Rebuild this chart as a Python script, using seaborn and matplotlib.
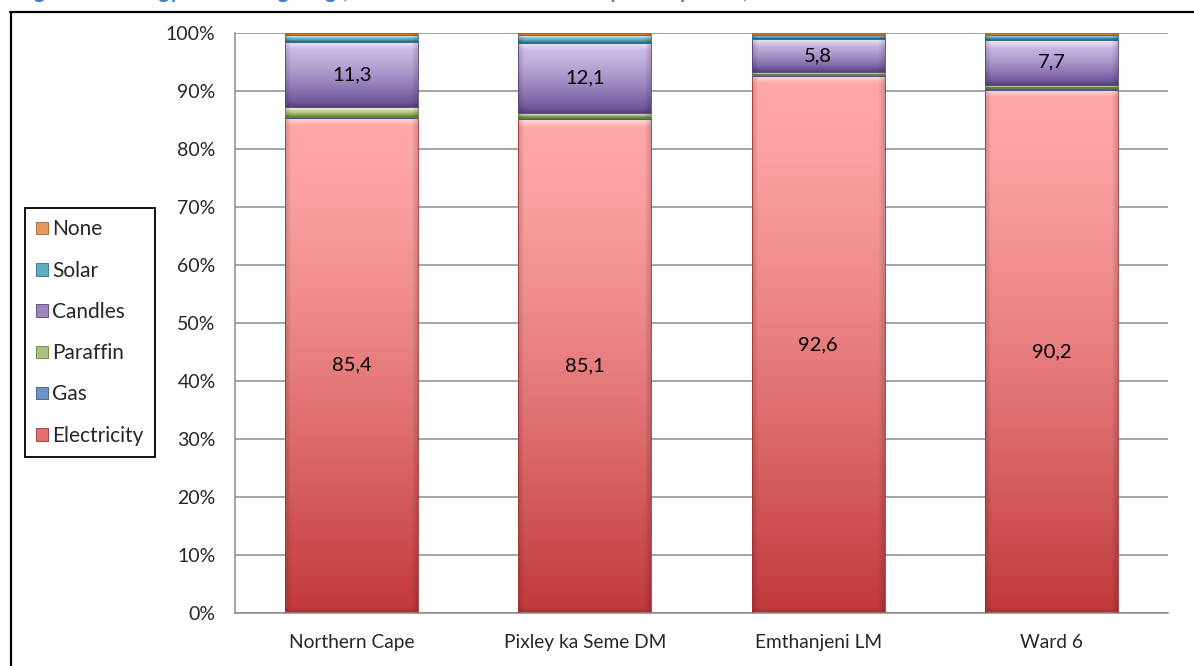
import numpy as np
import pandas as pd
import matplotlib
matplotlib.use("Agg")
import matplotlib.pyplot as plt
import seaborn as sns
from matplotlib.patches import Patch
from matplotlib.lines import Line2D
from matplotlib.ticker import FuncFormatter

# Share of households by main energy source for lighting (%)
areas = ["Northern Cape", "Pixley ka Seme DM", "Emthanjeni LM", "Ward 6"]
electricity = [85.4, 85.1, 92.6, 90.2]
gas = [0.2, 0.2, 0.1, 0.4]
paraffin = [1.6, 0.9, 0.5, 0.5]
candles = [11.3, 12.1, 5.8, 7.7]
solar = [1.1, 1.3, 0.7, 0.9]
no_lighting = [0.4, 0.4, 0.3, 0.3]

labelled = {"Electricity", "Candles"}

# (legend name, values, top colour, bottom colour)
series = [
    ("Electricity", electricity, (255, 168, 168), (192, 56, 58)),
    ("Gas", gas, (160, 188, 224), (62, 104, 164)),
    ("Paraffin", paraffin, (218, 232, 190), (122, 152, 62)),
    ("Candles", candles, (208, 192, 234), (102, 76, 146)),
    ("Solar", solar, (150, 210, 226), (46, 132, 156)),
    ("None", no_lighting, (252, 196, 148), (204, 112, 40)),
]

sns.set_style("white")
plt.rcParams["font.family"] = ["Lato", "DejaVu Sans"]

W_PX, H_PX = 1194, 666
fig = plt.figure(figsize=(W_PX / 100, H_PX / 100), dpi=100)
ax = fig.add_axes([235 / W_PX, 53 / H_PX, (1168 - 235) / W_PX, (613 - 33) / H_PX])

bottom = np.zeros(len(areas))
seg = []
for name, vals, top_c, bot_c in series:
    mid = tuple(((np.array(top_c) + np.array(bot_c)) / 2) / 255)
    df = pd.DataFrame({"area": areas, "share": vals})
    n0 = len(ax.patches)
    sns.barplot(data=df, x="area", y="share", order=areas, bottom=bottom.copy(),
                width=0.57, color=mid, saturation=1, errorbar=None,
                edgecolor=tuple(np.array(bot_c) / 255 * 0.85), linewidth=0.6, ax=ax)
    seg.append((name, vals, bottom.copy(), top_c, bot_c, ax.patches[n0:]))
    bottom += np.array(vals)

ax.set_xlim(-0.5, len(areas) - 0.5)
ax.set_ylim(0, 100)


def shade(top_c, bot_c, w, h):
    """Vertical gradient with a bevelled highlight along the top edge."""
    top = np.array(top_c, float) / 255
    bot = np.array(bot_c, float) / 255
    rows = np.arange(h)[:, None, None]
    cols = np.arange(w)[None, :, None]
    t = (rows / max(h - 1, 1)) ** 1.4
    img = top + (bot - top) * t
    img = np.broadcast_to(img, (h, w, 3)).copy()
    b = min(8.0, h / 3.0)
    if b >= 1:
        k = np.clip(1 - rows / b, 0, 1) * 0.6
        img = img + (1 - img) * k
    d = np.minimum(cols, w - 1 - cols)
    side = np.clip(1 - d / 6.0, 0, 1) * 0.16
    img = img * (1 - side)
    db = (h - 1 - rows)
    bb = min(5.0, h / 3.0)
    if bb >= 1:
        img = img * (1 - np.clip(1 - db / bb, 0, 1) * 0.12)
    return np.clip(img, 0, 1)


for name, vals, bots, top_c, bot_c, patches in seg:
    for p in patches:
        x0, y0, w, h = p.get_x(), p.get_y(), p.get_width(), p.get_height()
        (px0, py0), (px1, py1) = ax.transData.transform([(x0, y0), (x0 + w, y0 + h)])
        wp = max(int(round(px1 - px0)), 2)
        hp = max(int(round(py1 - py0)), 1)
        img = shade(top_c, bot_c, wp, hp)
        im = ax.imshow(img, extent=(x0, x0 + w, y0, y0 + h), origin="upper",
                       aspect="auto", interpolation="bilinear", zorder=2.5)
        im.set_clip_path(p)
        p.set_facecolor("none")
        p.set_zorder(3)
    if name in labelled:
        for i, (v, b0) in enumerate(zip(vals, bots)):
            ax.text(i, b0 + v / 2, f"{v:.1f}".replace(".", ","), ha="center",
                    va="center", fontsize=14.5, color="black", zorder=5)

ax.set_xlim(-0.5, len(areas) - 0.5)
ax.set_ylim(0, 100)
ax.set_yticks(np.arange(0, 101, 10))
ax.yaxis.set_major_formatter(FuncFormatter(lambda v, _: f"{v:.0f}%"))
ax.yaxis.grid(True, color="#8c8c8c", linewidth=1.1)
ax.set_axisbelow(True)
ax.tick_params(axis="y", length=0, pad=14, labelsize=14)
ax.tick_params(axis="x", length=0, pad=15, labelsize=13.8)
ax.set_xlabel("")
ax.set_ylabel("")
for s in ("top", "right"):
    ax.spines[s].set_visible(False)
for s in ("left", "bottom"):
    ax.spines[s].set_color("#8c8c8c")
    ax.spines[s].set_linewidth(1.1)

handles = []
for name, vals, top_c, bot_c in reversed(series):
    mid = tuple(((np.array(top_c) + np.array(bot_c)) / 2) / 255)
    handles.append(Patch(facecolor=mid, edgecolor=tuple(np.array(bot_c) / 255 * 0.85),
                         linewidth=0.6, label=name))
leg = fig.legend(handles=handles, loc="upper left",
                 bbox_to_anchor=(25 / W_PX, (H_PX - 208) / H_PX),
                 bbox_transform=fig.transFigure, fontsize=15, frameon=True,
                 fancybox=False, edgecolor="black", framealpha=1,
                 handlelength=0.55, handleheight=0.55, handletextpad=0.2,
                 labelspacing=1.02, borderpad=0.55, borderaxespad=0)
leg.get_frame().set_linewidth(1.3)

# Outer frame of the figure block
fig.add_artist(Line2D([10.5 / W_PX, 10.5 / W_PX], [0, (H_PX - 12) / H_PX],
                      transform=fig.transFigure, color="black", lw=1.6))
fig.add_artist(Line2D([10 / W_PX, 1], [(H_PX - 12) / H_PX, (H_PX - 12) / H_PX],
                      transform=fig.transFigure, color="black", lw=1.6))

# Caption above the block
fig.text(17 / W_PX, 1 + 2.5 / H_PX,
         "Figure 14: Energy used for lighting (Census 2011 and Community Survey 2016)",
         ha="left", va="baseline", fontsize=15, fontweight="bold", color="#3f7fc6")

fig.savefig("out.png", dpi=100)
